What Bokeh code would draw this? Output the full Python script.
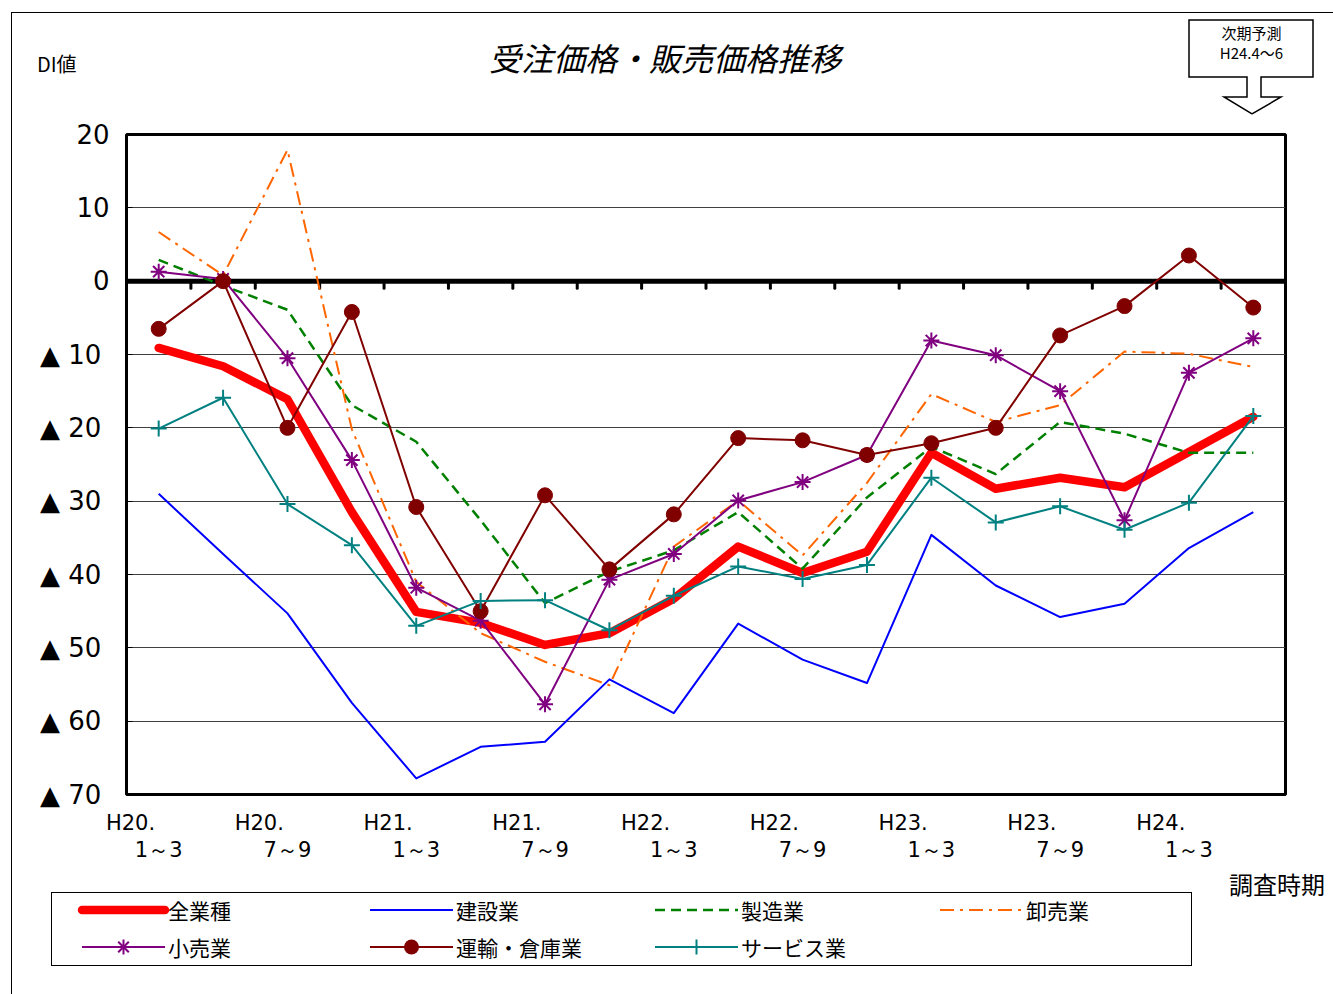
import numpy as np
from bokeh.plotting import figure
from bokeh.layouts import column
from bokeh.models import (Range1d, LinearAxis, FixedTicker, Span, Div)
from bokeh.embed import file_html
from bokeh.resources import INLINE

# ---------------- data ----------------
periods = ["H20.1～3", "H20.4～6", "H20.7～9", "H20.10～12",
           "H21.1～3", "H21.4～6", "H21.7～9", "H21.10～12",
           "H22.1～3", "H22.4～6", "H22.7～9", "H22.10～12",
           "H23.1～3", "H23.4～6", "H23.7～9", "H23.10～12",
           "H24.1～3", "H24.4～6"]
tick_years = ["H20.", "H20.", "H21.", "H21.", "H22.", "H22.", "H23.", "H23.", "H24."]
tick_months = ["1～3", "7～9", "1～3", "7～9", "1～3", "7～9", "1～3", "7～9", "1～3"]
y_ticks = [20, 10, 0, -10, -20, -30, -40, -50, -60, -70]

series_names = ["全業種", "建設業", "製造業", "卸売業", "小売業", "運輸・倉庫業", "サービス業"]
all_industries = [-9.1, -11.6, -16.1, -31.5, -45.1, -46.6, -49.6, -48.0, -43.3,
                  -36.2, -39.8, -36.9, -23.4, -28.3, -26.8, -28.1, -23.3, -18.5]
construction = [-29.0, -37.2, -45.3, -57.5, -67.8, -63.5, -62.8, -54.3, -58.9,
                -46.7, -51.6, -54.8, -34.6, -41.5, -45.8, -44.0, -36.4, -31.5]
manufacturing = [2.9, -0.6, -3.9, -16.9, -21.9, -32.6, -43.9, -39.6, -36.7,
                 -31.5, -39.2, -29.5, -22.6, -26.3, -19.2, -20.8, -23.4, -23.4]
wholesale = [6.7, 0.8, 17.9, -20.2, -41.0, -48.0, -51.9, -55.1, -36.2,
             -29.9, -37.4, -27.5, -15.4, -19.2, -16.9, -9.6, -9.9, -11.7]
retail = [1.3, 0.3, -10.5, -24.4, -41.8, -46.3, -57.7, -40.7, -37.2,
          -29.9, -27.4, -23.7, -8.1, -10.1, -15.0, -32.6, -12.5, -7.8]
transport = [-6.5, 0.0, -20.0, -4.2, -30.8, -45.0, -29.2, -39.3, -31.8,
             -21.4, -21.7, -23.7, -22.1, -20.0, -7.4, -3.4, 3.5, -3.6]
services = [-20.1, -15.9, -30.4, -36.0, -47.0, -43.6, -43.5, -47.6, -42.9,
            -38.9, -40.6, -38.7, -26.8, -32.9, -30.7, -33.9, -30.2, -18.4]

title_text = "受注価格・販売価格推移"
unit_text = "DI値"
xaxis_title = "調査時期"
forecast_lines = ["次期予測", "H24.4～6"]

# ---------------- styles ----------------
JP = "Noto Sans CJK JP"
NUM = "DejaVu Sans"
STYLE = [  # colour, width, dash, marker
    ("#FF0000", 8.5, None, None),
    ("#0000FF", 2, None, None),
    ("#008000", 2.5, "10 6", None),
    ("#FF6600", 2, "14 6 3 6", None),
    ("#800080", 2, None, "asterisk"),
    ("#800000", 2, None, "circle"),
    ("#008080", 2, None, "cross"),
]

OX, OY = 12, 13            # content origin inside the outer chart frame
PAGE_W, PAGE_H = 1333, 994
TOP_END = 114              # header strip ends here
MAIN_END = 866             # main figure ends here (footer with legend below)


def txt(s, x, y, size, oy, anchor="center", extra=""):
    tx = {"center": "-50%", "left": "0", "right": "-100%"}[anchor]
    return ('<div style="position:absolute;left:%gpx;top:%gpx;transform:translate(%s,-50%%);'
            'white-space:nowrap;line-height:1;font-size:%dpx;%s">%s</div>'
            % (x - OX, y - oy, tx, size, extra, s))


# ---------------- header strip (title, unit, forecast callout) ----------------
HW, HH = PAGE_W - OX, TOP_END - OY
callout_pts = [(1189, 20), (1313, 20), (1313, 77), (1261, 77), (1261, 97), (1281, 97),
               (1252, 114), (1224, 97), (1247, 97), (1247, 77), (1189, 77)]
pts = " ".join("%g,%g" % (x - OX, y - OY) for x, y in callout_pts)
header_html = (
    '<div style="position:relative;width:%dpx;height:%dpx;font-family:\'%s\';color:#000;">' % (HW, HH, JP)
    + '<svg width="%d" height="%d" style="position:absolute;left:0;top:0;overflow:visible">'
      '<polygon points="%s" fill="white" stroke="black" stroke-width="1.5"/></svg>' % (HW, HH, pts)
    + txt(title_text, 665, 57, 32, OY, extra="font-style:italic;")
    + txt(unit_text, 37, 64, 20, OY, anchor="left")
    + txt("<br>".join(forecast_lines), 1251.5, 43, 15, OY,
          extra="line-height:20px;text-align:center;")
    + '</div>')
header = Div(text=header_html, width=HW, height=HH, margin=0)

# ---------------- main chart ----------------
n = len(periods)
xs = np.arange(n) + 0.5
bounds = np.arange(n + 1)

FRAME_L, FRAME_T, FRAME_W, FRAME_H = 126, 134, 1159, 660
p = figure(frame_width=FRAME_W, frame_height=FRAME_H,
           min_border_left=FRAME_L - OX,
           min_border_right=PAGE_W - FRAME_L - FRAME_W,
           min_border_top=FRAME_T - TOP_END,
           min_border_bottom=MAIN_END - FRAME_T - FRAME_H,
           x_range=Range1d(0, n), y_range=Range1d(-70, 20),
           x_axis_type=None, output_backend="svg", toolbar_location=None)
p.background_fill_color = "white"
p.border_fill_color = "white"
p.outline_line_color = "black"
p.outline_line_width = 3

ya = p.yaxis[0]
ya.ticker = FixedTicker(ticks=y_ticks)
ya.major_label_overrides = {t: ("▲  %d" % -t if t < 0 else "%d" % t) for t in y_ticks}
ya.major_label_text_font = NUM
ya.major_label_text_font_size = "26px"
ya.major_label_text_color = "black"
ya.axis_line_color = None
ya.major_tick_in = 6
ya.major_tick_out = 0
ya.major_tick_line_color = "black"
ya.minor_tick_line_color = None
ya.major_label_standoff = 17

p.ygrid.ticker = FixedTicker(ticks=y_ticks)
p.ygrid.grid_line_color = "#404040"
p.ygrid.grid_line_width = 1
p.xgrid.visible = False

even_idx = list(range(0, n - 1, 2))
yr_ticks = [i + 0.0625 for i in even_idx]
mo_ticks = [i + 0.5 for i in even_idx]
ax1 = LinearAxis(ticker=FixedTicker(ticks=yr_ticks),
                 major_label_overrides={t: s for t, s in zip(yr_ticks, tick_years)})
ax2 = LinearAxis(ticker=FixedTicker(ticks=mo_ticks),
                 major_label_overrides={t: s for t, s in zip(mo_ticks, tick_months)})
for ax, so in ((ax1, 16), (ax2, 0)):
    ax.axis_line_color = None
    ax.major_tick_line_color = None
    ax.major_tick_out = 0
    ax.major_tick_in = 0
    ax.minor_tick_line_color = None
    ax.minor_tick_out = 0
    ax.major_label_text_font = NUM
    ax.major_label_text_font_size = "21px"
    ax.major_label_text_color = "black"
    ax.major_label_standoff = so
    p.add_layout(ax, "below")

zero = Span(location=0, dimension="width", line_color="black", line_width=5, level="underlay")
p.add_layout(zero)
TICK_LEN = 0.95
p.segment(x0=bounds, y0=np.zeros(n + 1), x1=bounds, y1=np.full(n + 1, -TICK_LEN),
          line_color="black", line_width=3, line_cap="round")

series = [all_industries, construction, manufacturing, wholesale, retail, transport, services]
for name, vals, (col, lw, dash, marker) in zip(series_names, series, STYLE):
    kw = dict(line_color=col, line_width=lw, line_join="round")
    if dash:
        kw["line_dash"] = dash
    if lw > 4:
        kw["line_cap"] = "round"
    p.line(xs, vals, **kw)
    if marker == "circle":
        p.scatter(xs, vals, marker="circle", size=15, fill_color=col, line_color=col)
    elif marker:
        p.scatter(xs, vals, marker=marker, size=16, line_color=col, line_width=2)

# ---------------- footer: axis title and legend ----------------
FW, FH = PAGE_W - OX, PAGE_H - MAIN_END
LEG_BOX = (51, 892, 1192, 966)           # left, top, right, bottom (page px)
LEG_COLS = [82, 370, 655, 940]           # glyph start of each legend column
LEG_ROWS = [910, 947]
GLYPH_W = 83


def glyph_svg(i, gx, gy):
    col, lw, dash, marker = STYLE[i]
    x0, x1, y = gx - OX, gx + GLYPH_W - OX, gy - MAIN_END
    s = ('<line x1="%g" y1="%g" x2="%g" y2="%g" stroke="%s" stroke-width="%g"%s%s/>'
         % (x0, y, x1, y, col, lw,
            ' stroke-dasharray="%s"' % dash if dash else "",
            ' stroke-linecap="round"' if lw > 4 else ""))
    cx, r = (x0 + x1) / 2, 7.5
    if marker == "circle":
        s += '<circle cx="%g" cy="%g" r="%g" fill="%s"/>' % (cx, y, r, col)
    elif marker in ("cross", "asterisk"):
        segs = [(-r, 0, r, 0), (0, -r, 0, r)]
        if marker == "asterisk":
            d = r * 0.707
            segs += [(-d, -d, d, d), (-d, d, d, -d)]
        for a, b, c, e in segs:
            s += ('<line x1="%g" y1="%g" x2="%g" y2="%g" stroke="%s" stroke-width="2"/>'
                  % (cx + a, y + b, cx + c, y + e, col))
    return s


svg_parts, text_parts = [], []
for i, name in enumerate(series_names):
    gx, gy = LEG_COLS[i % 4], LEG_ROWS[i // 4]
    svg_parts.append(glyph_svg(i, gx, gy))
    text_parts.append(txt(name, gx + GLYPH_W + 3, gy, 21, MAIN_END, anchor="left"))

l, t, r, b = LEG_BOX
footer_html = (
    '<div style="position:relative;width:%dpx;height:%dpx;font-family:\'%s\';color:#000;">' % (FW, FH, JP)
    + '<div style="position:absolute;left:%dpx;top:%dpx;width:%dpx;height:%dpx;'
      'box-sizing:border-box;border:1.5px solid black;background:white;"></div>'
      % (l - OX, t - MAIN_END, r - l, b - t)
    + '<svg width="%d" height="%d" style="position:absolute;left:0;top:0;">%s</svg>'
      % (FW, FH, "".join(svg_parts))
    + "".join(text_parts)
    + txt(xaxis_title, 1325, 884, 24, MAIN_END, anchor="right")
    + '</div>')
footer = Div(text=footer_html, width=FW, height=FH, margin=0)

layout = column(header, p, footer, spacing=0,
                styles={"margin-left": "11px", "margin-top": "12px",
                        "border-left": "1px solid black", "border-top": "1px solid black"})

open("out.html", "w").write(file_html(layout, INLINE))
